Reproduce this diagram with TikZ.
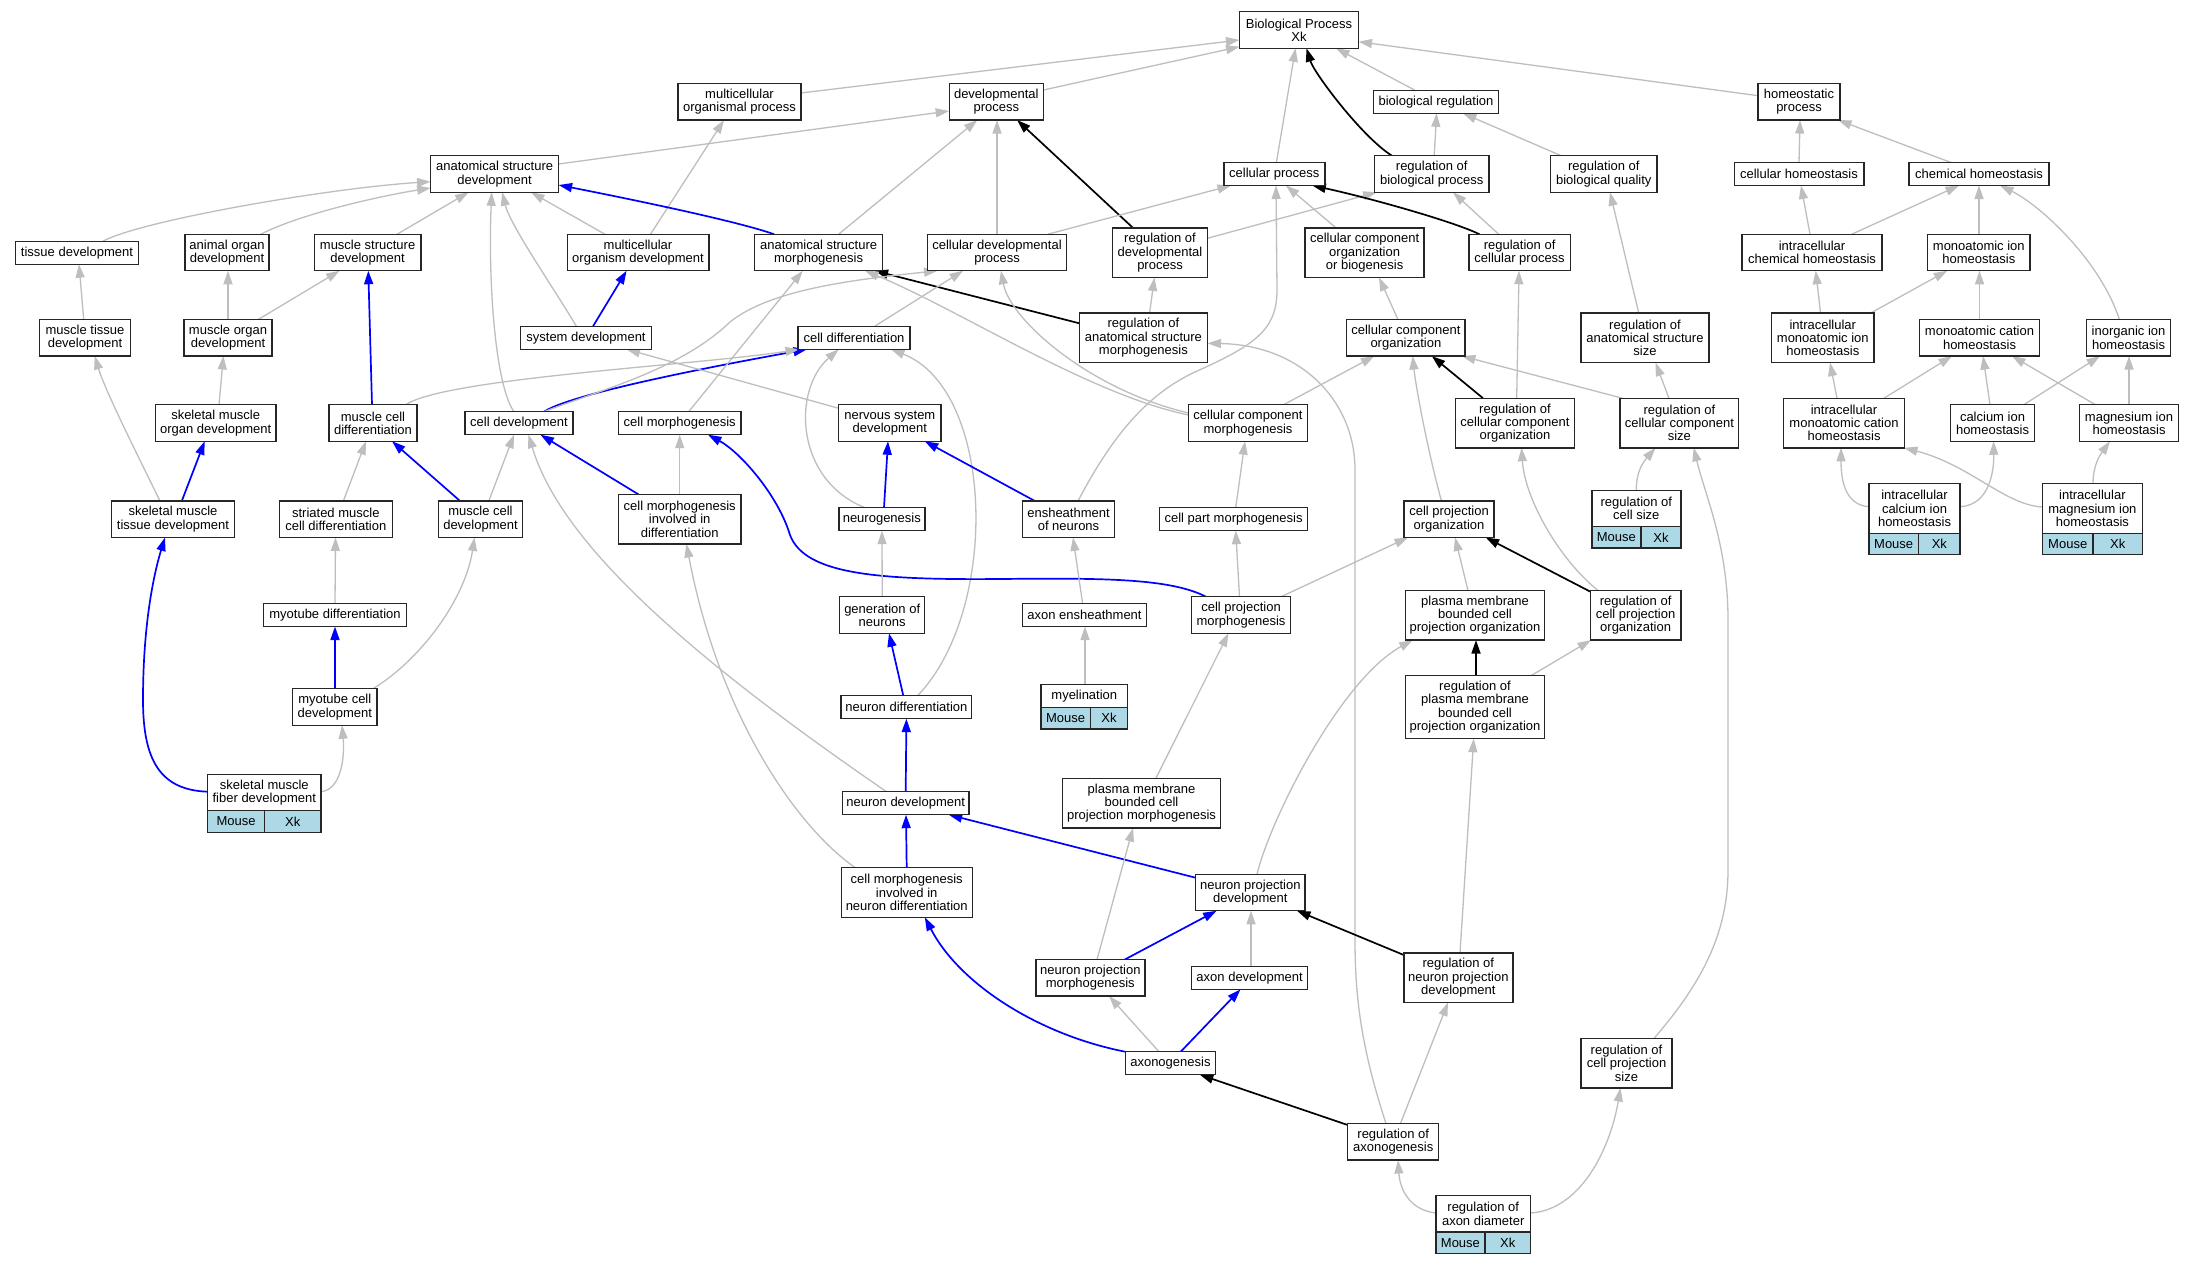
\documentclass[tikz,border=0pt]{standalone}
\usepackage{fontspec}
\setmainfont{Liberation Sans}
\usetikzlibrary{arrows.meta,calc}
\definecolor{eg}{RGB}{190,190,190}
\definecolor{lb}{RGB}{173,216,230}
\pgfdeclarelayer{bgl}
\pgfdeclarelayer{edges}
\pgfsetlayers{bgl,edges,main}
\tikzset{
  box/.style={draw=black!85, line width=1.4pt, fill=white, align=center, inner sep=0pt,
    font=\fontsize{13}{13.3}\selectfont},
  l1/.style={minimum height=23pt}, l2/.style={minimum height=36.5pt},
  l3/.style={minimum height=49.6pt}, l4/.style={minimum height=63pt},
  cellbox/.style={draw=black!85, line width=1.4pt, fill=lb, inner sep=0pt,
    font=\fontsize{13}{13.3}\selectfont},
  ga/.style={draw=eg, line width=1.3pt, -{Triangle[length=13.5pt,width=9pt]}},
  bl/.style={draw=blue, line width=1.7pt, -{Triangle[length=13.5pt,width=9pt]}},
  bk/.style={draw=black, line width=1.7pt, -{Triangle[length=13.5pt,width=9pt]}},
}
\newcommand\nd[6]{\node[box,l#5,minimum width=#4pt] (#1) at (#2,#3) {#6};}
\newcommand\rowcells[6]{%
  \node[cellbox, minimum width={#3pt-#2pt}, minimum height={#6pt-#5pt}] (#1M) at ({(#2+#3)/2},{(#5+#6)/2}) {Mouse};
  \node[cellbox, minimum width={#4pt-#3pt}, minimum height={#6pt-#5pt}] (#1X) at ({(#3+#4)/2},{(#5+#6)/2}) {Xk};}
\newcommand\es[5]{\draw[#1] ($(#2)+(#3)$) -- ($(#4)+(#5)$);}
\newcommand\ec[7]{\draw[#1] ($(#2)+(#3)$) .. controls (#4) and (#5) .. ($(#6)+(#7)$);}
\begin{document}
\begin{tikzpicture}[x=1pt,y=-1pt]
\begin{pgfonlayer}{bgl}
\fill[white] (0,0) rectangle (2195,1264);
\end{pgfonlayer}
\useasboundingbox (0,0) rectangle (2195,1264);
% ---------- nodes ----------
\nd{bp}{1299}{30}{119}{2}{Biological Process\\Xk}
\nd{mop}{739.5}{101.8}{122.7}{2}{multicellular\\organismal process}
\nd{dp}{996.3}{101.8}{94.2}{2}{developmental\\process}
\nd{br}{1436}{101.8}{124.7}{1}{biological regulation}
\nd{hp}{1799}{101.8}{81.8}{2}{homeostatic\\process}
\nd{asd}{494.6}{174}{128}{2}{anatomical structure\\development}
\nd{cp}{1274.3}{174}{101}{1}{cellular process}
\nd{rbp}{1431.7}{174}{114.6}{2}{regulation of\\biological process}
\nd{rbq}{1603.8}{174}{106.2}{2}{regulation of\\biological quality}
\nd{chom}{1799}{174}{129.6}{1}{cellular homeostasis}
\nd{chem}{1979}{174}{140}{1}{chemical homeostasis}
\nd{td}{77}{252.7}{123}{1}{tissue development}
\nd{aod}{227}{252.5}{84}{2}{animal organ\\development}
\nd{msd}{367.6}{252.5}{106.7}{2}{muscle structure\\development}
\nd{mod}{638}{252.5}{141.6}{2}{multicellular\\organism development}
\nd{asm}{818.6}{252.5}{128}{2}{anatomical structure\\morphogenesis}
\nd{cdp}{997}{252.5}{138.7}{2}{cellular developmental\\process}
\nd{rdp}{1160}{252.7}{94.7}{3}{regulation of\\developmental\\process}
\nd{ccob}{1364.6}{252.7}{119.1}{3}{cellular component\\organization\\or biogenesis}
\nd{rcp}{1519.6}{252.5}{101.4}{2}{regulation of\\cellular process}
\nd{ich}{1812}{252.5}{140.2}{2}{intracellular\\chemical homeostasis}
\nd{mih}{1978.8}{252.5}{102.4}{2}{monoatomic ion\\homeostasis}
\nd{mtd}{85}{337.7}{91}{2}{muscle tissue\\development}
\nd{morgd}{228}{337.7}{88}{2}{muscle organ\\development}
\nd{sd}{586}{337.8}{130.6}{1}{system development}
\nd{cdiff}{854}{337.8}{112}{1}{cell differentiation}
\nd{rasm}{1143.4}{337.8}{128.2}{3}{regulation of\\anatomical structure\\morphogenesis}
\nd{cco}{1405.9}{337.8}{118.4}{2}{cellular component\\organization}
\nd{rass}{1645}{337.8}{128.2}{3}{regulation of\\anatomical structure\\size}
\nd{imih}{1822.8}{337.8}{102.4}{3}{intracellular\\monoatomic ion\\homeostasis}
\nd{mch}{1979.5}{337.8}{120}{2}{monoatomic cation\\homeostasis}
\nd{iih}{2128.5}{337.8}{84.2}{2}{inorganic ion\\homeostasis}
\nd{smod}{215.7}{423}{120.5}{2}{skeletal muscle\\organ development}
\nd{mcd}{373}{423}{88}{2}{muscle cell\\differentiation}
\nd{cd}{519}{423.2}{108}{1}{cell development}
\nd{cm}{679.7}{423.2}{122.5}{1}{cell morphogenesis}
\nd{nsd}{889.8}{423}{102.3}{2}{nervous system\\development}
\nd{ccm}{1248}{423}{118.6}{2}{cellular component\\morphogenesis}
\nd{rcco}{1515}{423}{119}{3}{regulation of\\cellular component\\organization}
\nd{rccs}{1679.4}{423}{118.6}{3}{regulation of\\cellular component\\size}
\nd{imch}{1844}{423}{120.6}{3}{intracellular\\monoatomic cation\\homeostasis}
\nd{cih}{1992.5}{423}{83.7}{2}{calcium ion\\homeostasis}
\nd{mgih}{2129}{423}{98.5}{2}{magnesium ion\\homeostasis}
\nd{smtd}{173}{519.2}{123}{2}{skeletal muscle\\tissue development}
\nd{smcd}{335.8}{519.2}{113}{2}{striated muscle\\cell differentiation}
\nd{mcdev}{480.5}{519.2}{83.7}{2}{muscle cell\\development}
\nd{cmid}{679.7}{519.2}{122.5}{3}{cell morphogenesis\\involved in\\differentiation}
\nd{neur}{881.8}{519.2}{86}{1}{neurogenesis}
\nd{eon}{1068.5}{519.2}{92.3}{2}{ensheathment\\of neurons}
\nd{cpartm}{1233.6}{519.2}{147.8}{1}{cell part morphogenesis}
\nd{cpo}{1449}{519.2}{90.3}{2}{cell projection\\organization}
\nd{rcs}{1636.3}{508.5}{89}{2}{regulation of\\cell size}
\rowcells{rcs}{1591.8}{1641}{1680.8}{526.75}{548}
\nd{icih}{1914.5}{508.5}{91.3}{3}{intracellular\\calcium ion\\homeostasis}
\rowcells{icih}{1868.85}{1918.5}{1960.15}{533.3}{554.7}
\nd{imgih}{2092.4}{508.5}{100}{3}{intracellular\\magnesium ion\\homeostasis}
\rowcells{imgih}{2042.4}{2093}{2142.4}{533.3}{554.7}
\nd{mtdiff}{335}{615}{143}{1}{myotube differentiation}
\nd{gon}{882.2}{615}{85}{2}{generation of\\neurons}
\nd{ae}{1084.5}{615}{124.4}{1}{axon ensheathment}
\nd{cpm}{1241}{615}{98.5}{2}{cell projection\\morphogenesis}
\nd{pmbcpo}{1475}{615.3}{139.5}{3}{plasma membrane\\bounded cell\\projection organization}
\nd{rcpo}{1635.6}{615.3}{90.4}{3}{regulation of\\cell projection\\organization}
\nd{mtcd}{334.8}{707}{84.2}{2}{myotube cell\\development}
\nd{ndiff}{906.4}{707.2}{130.6}{1}{neuron differentiation}
\nd{myel}{1084.3}{696}{86.6}{1}{myelination}
\rowcells{myel}{1041}{1090.3}{1127.6}{707.5}{729}
\nd{rpmbcpo}{1475}{707.2}{139.5}{4}{regulation of\\plasma membrane\\bounded cell\\projection organization}
\nd{smfd}{264.3}{792.5}{113.4}{2}{skeletal muscle\\fiber development}
\rowcells{smfd}{207.6}{264.5}{321}{810.75}{832.3}
\nd{ndev}{905.7}{803.2}{126.3}{1}{neuron development}
\nd{pmbcpm}{1141.5}{803.3}{157.8}{3}{plasma membrane\\bounded cell\\projection morphogenesis}
\nd{cmind}{906.7}{892.5}{131}{3}{cell morphogenesis\\involved in\\neuron differentiation}
\nd{npd}{1250.3}{892.5}{109.5}{2}{neuron projection\\development}
\nd{npm}{1090.3}{977.8}{109}{2}{neuron projection\\morphogenesis}
\nd{ad}{1249.6}{977.8}{115.8}{1}{axon development}
\nd{rnpd}{1458.3}{977.7}{109}{3}{regulation of\\neuron projection\\development}
\nd{axg}{1170.4}{1063.2}{90.4}{1}{axonogenesis}
\nd{rcps}{1626.5}{1063.2}{91.3}{3}{regulation of\\cell projection\\size}
\nd{rax}{1393.2}{1141.8}{91}{2}{regulation of\\axonogenesis}
\nd{rad}{1483.2}{1213.7}{94.7}{2}{regulation of\\axon diameter}
\rowcells{rad}{1435.85}{1485}{1530.55}{1231.95}{1253.3}
% ---------- edges ----------
\begin{pgfonlayer}{edges}
\es{ga}{mop}{61.4,-8.8}{bp}{-59.5,10}
\es{ga}{dp}{47.1,-11.8}{bp}{-59.5,16.7}
\es{ga}{cp}{2.1,-11.5}{bp}{-3.5,18.25}
\ec{bk}{rbp}{-39.7,-18.25}{1362,137}{1314,73}{bp}{7.5,18.25}
\es{ga}{br}{-21,-11.5}{bp}{37,18.25}
\es{ga}{hp}{-40.9,-6.1}{bp}{59.5,11.7}
\es{ga}{asd}{64,-10}{dp}{-47.1,9.2}
\es{ga}{mod}{12.5,-18.25}{mop}{-15.5,18.25}
\es{ga}{asm}{20,-18.25}{dp}{-19,18.25}
\es{ga}{cdp}{0,-18.25}{dp}{0.7,18.25}
\es{bk}{rdp}{-27,-24.8}{dp}{20.8,18.25}
\es{ga}{cdp}{50.7,-18.25}{cp}{-43.3,11.5}
\es{ga}{rdp}{47.35,-14.4}{rbp}{-55,18.25}
\es{ga}{ccob}{-28.6,-24.8}{cp}{11.7,11.5}
\ec{bk}{rcp}{-40.2,-18.25}{1455,222}{1370,198}{cp}{38,11.5}
\es{ga}{rcp}{-21,-18.25}{rbp}{21.3,18.25}
\es{ga}{rbq}{-42.6,-18.25}{br}{27,11.5}
\es{ga}{rbp}{2.5,-18.25}{br}{0.6,11.5}
\es{ga}{chom}{0,-11.5}{hp}{1,18.25}
\es{ga}{chem}{-28,-11.5}{hp}{39,18.25}
\ec{bl}{asm}{-44.5,-18.25}{740,222}{640,201}{asd}{64,11}
\ec{ga}{td}{25.8,-11.5}{143,220}{330,188}{asd}{-64,7.7}
\ec{ga}{aod}{33.7,-18.25}{300,214}{380,196}{asd}{-64,14}
\es{ga}{msd}{29.4,-18.25}{asd}{-26,18.25}
\ec{ga}{cd}{-5,-11.5}{495,385}{488,280}{asd}{-2.9,18.25}
\ec{ga}{sd}{-9.6,-11.5}{555,290}{510,225}{asd}{7.6,18.25}
\es{ga}{mod}{-33,-18.25}{asd}{36.4,18.25}
\es{bk}{rasm}{-64.1,-14.5}{asm}{56,18.25}
\es{ga}{cdiff}{20.6,-11.5}{cdp}{-34,18.25}
\ec{ga}{ccm}{-59.3,-8}{1090,395}{960,310}{asm}{46.4,18.25}
\ec{ga}{ccm}{-59.3,-10}{1090,390}{1010,320}{cdp}{4,18.25}
\es{ga}{rasm}{6.2,-24.8}{rdp}{-5.6,24.8}
\es{ga}{cco}{-7.9,-18.25}{ccob}{14.4,24.8}
\es{ga}{rcco}{1.7,-24.8}{rcp}{-0.6,18.25}
\es{ga}{rass}{-6.3,-24.8}{rbq}{6.2,18.25}
\es{ga}{ich}{-2,-18.25}{chom}{2,11.5}
\es{ga}{ich}{39.6,-18.25}{chem}{-20,11.5}
\es{ga}{mih}{0.2,-18.25}{chem}{0,11.5}
\ec{ga}{iih}{-9.1,-18.25}{2100,260}{2040,205}{chem}{21,11.5}
\es{ga}{mtd}{-1.3,-18.25}{td}{2,11.5}
\es{ga}{morgd}{0,-18.25}{aod}{1,18.25}
\es{ga}{morgd}{30.3,-18.25}{msd}{-28,18.25}
\es{bl}{mcd}{-1,-18.25}{msd}{0.7,18.25}
\es{bl}{sd}{7,-11.5}{mod}{-11.4,18.25}
\ec{bl}{cd}{25,-11.5}{574,392}{737,362}{cdiff}{-47,11.5}
\ec{ga}{mcd}{32.7,-18.25}{445,378}{700,365}{cdiff}{-55,11.5}
\draw[ga] ($(cd)+(25,-11.5)$) .. controls (600,390) and (680,370) .. (730,322) .. controls (770,290) and (850,280) .. ($(cdp)+(-59.5,18.25)$);
\es{ga}{cm}{9,-11.5}{asm}{-15.8,18.25}
\es{ga}{nsd}{-51.1,-14.7}{sd}{40.6,11.5}
\ec{ga}{neur}{-16.8,-11.5}{795,480}{792,390}{cdiff}{-15.3,11.5}
\ec{ga}{ndiff}{11.2,-11.5}{1000,610}{995,390}{cdiff}{37,11.5}
\es{ga}{ccm}{35.5,-18.25}{cco}{-31.5,18.25}
\es{bk}{rcco}{-32,-24.8}{cco}{25.9,18.25}
\ec{ga}{cpo}{-7.6,-18.25}{1425,440}{1415,380}{cco}{6.8,18.25}
\es{ga}{rccs}{-57,-24.8}{cco}{56,18.25}
\es{ga}{rccs}{-10.5,-24.8}{rass}{10.5,24.8}
\es{ga}{imih}{-2.3,-24.8}{ich}{3.7,18.25}
\es{ga}{imih}{47.9,-24.8}{mih}{-31.6,18.25}
\es{ga}{mch}{0,-18.25}{mih}{0.7,18.25}
\draw[ga] ($(rax)+(-7.2,-18.25)$) .. controls (1362,1050) and (1355,1000) .. (1355,940) -- (1355,470) .. controls (1355,400) and (1300,345) .. ($(rasm)+(64.1,5.5)$);
\ec{ga}{rcs}{0,-18.25}{1636,470}{1645,460}{rccs}{-24,24.8}
\draw[ga] ($(rcps)+(27.5,-24.8)$) .. controls (1700,985) and (1728,935) .. (1728,870) -- (1728,620) .. controls (1728,545) and (1705,495) .. ($(rccs)+(14.3,24.8)$);
\es{ga}{imch}{-7,-24.8}{imih}{7.2,24.8}
\es{ga}{imch}{40,-24.8}{mch}{-27.5,18.25}
\es{ga}{cih}{-2.5,-18.25}{mch}{3.5,18.25}
\es{ga}{cih}{31.3,-18.25}{iih}{-28.5,18.25}
\es{ga}{mgih}{-33.5,-18.25}{mch}{32.5,18.25}
\es{ga}{mgih}{0,-18.25}{iih}{0.5,18.25}
\ec{ga}{icih}{-45.65,-1.8}{1845,505}{1841,480}{imch}{-3,24.8}
\ec{ga}{icih}{45.65,-1.8}{1990,505}{1994,470}{cih}{1.1,18.25}
\ec{ga}{imgih}{-50,-1.5}{2005,505}{1970,465}{imch}{60,24.8}
\ec{ga}{imgih}{0.6,-24.8}{2093,465}{2100,455}{mgih}{-19,18.25}
\es{ga}{smod}{3.3,-18.25}{morgd}{-4.6,18.25}
\es{bl}{smtd}{8.8,-18.25}{smod}{-11,18.25}
\ec{ga}{smtd}{-13,-18.25}{135,450}{105,390}{mtd}{9.7,18.25}
\es{ga}{smcd}{7.6,-18.25}{mcd}{-7,18.25}
\es{bl}{mcdev}{-20.5,-18.25}{mcd}{19,18.25}
\es{ga}{mcdev}{8.3,-18.25}{cd}{-5,11.5}
\es{bl}{cmid}{-41.2,-24.8}{cd}{21.5,11.5}
\es{ga}{cmid}{0,-24.8}{cm}{0,11.5}
\ec{ga}{ndev}{-19.2,-11.5}{680,650}{560,540}{cd}{9.5,11.5}
\draw[bl] ($(cpm)+(-35,-18.25)$) .. controls (1170,578) and (1100,578) .. (1000,579) .. controls (880,580) and (805,575) .. (790,535) .. controls (778,495) and (740,452) .. ($(cm)+(28.3,11.5)$);
\es{bl}{neur}{2.2,-11.5}{nsd}{-1.8,18.25}
\es{bl}{eon}{-33.7,-18.25}{nsd}{35,18.25}
\draw[ga] ($(eon)+(9.5,-18.25)$) .. controls (1110,440) and (1145,395) .. (1195,372) .. controls (1255,345) and (1277,330) .. (1277,290) -- ($(cp)+(1.7,11.5)$);
\es{ga}{cpartm}{2.1,-11.5}{ccm}{-3,18.25}
\es{ga}{cpm}{-1.5,-18.25}{cpartm}{2.1,11.5}
\es{ga}{cpm}{40,-18.25}{cpo}{-41,18.25}
\es{ga}{pmbcpo}{-7,-24.8}{cpo}{6,18.25}
\es{bk}{rcpo}{-45.2,-23.6}{cpo}{36.7,18.25}
\ec{ga}{rcpo}{-37.6,-24.8}{1560,560}{1525,500}{rcco}{6.5,24.8}
\es{ga}{gon}{0,-18.25}{neur}{0.2,11.5}
\es{ga}{mtdiff}{0,-11.5}{smcd}{-0.3,18.25}
\es{ga}{ae}{-1.9,-11.5}{eon}{4.5,18.25}
\es{ga}{myel}{0.7,-11.5}{ae}{0.5,11.5}
\es{bk}{rpmbcpo}{1,-31.5}{pmbcpo}{1,24.8}
\es{ga}{rpmbcpo}{56,-31.5}{rcpo}{-44.6,24.8}
\es{bl}{ndiff}{-3.1,-11.5}{gon}{6.8,18.25}
\es{bl}{mtcd}{0.2,-18.25}{mtdiff}{0,11.5}
\ec{ga}{mtcd}{38.2,-18.25}{420,660}{465,600}{mcdev}{-6,18.25}
\draw[bl] ($(smfd)+(-56.7,-0.8)$) .. controls (160,790) and (143,760) .. (143,700) .. controls (143,620) and (155,570) .. ($(smtd)+(-8,18.25)$);
\ec{ga}{smfd}{56.7,-0.8}{340,790}{345,760}{mtcd}{7.2,18.25}
\es{bl}{ndev}{0,-11.5}{ndiff}{0,11.5}
\ec{ga}{cmind}{-51.3,-24.8}{800,830}{720,720}{cmid}{6.7,24.8}
\es{bl}{cmind}{0,-24.8}{ndev}{0.3,11.5}
\es{bl}{npd}{-54.75,-14.8}{ndev}{43,11.5}
\ec{ga}{npd}{6.7,-18.25}{1270,820}{1340,680}{pmbcpo}{-62.3,24.8}
\es{ga}{pmbcpm}{14.3,-24.8}{cpm}{-12.5,18.25}
\es{ga}{rnpd}{1.7,-24.8}{rpmbcpo}{-1.3,31.5}
\es{ga}{npm}{6.7,-18.25}{pmbcpm}{-8.5,24.8}
\es{bl}{npm}{34.4,-18.25}{npd}{-33.7,18.25}
\es{ga}{ad}{1.4,-11.5}{npd}{0.7,18.25}
\es{bk}{rnpd}{-54.5,-22.7}{npd}{46.7,18.25}
\ec{bl}{axg}{-45.2,-11.5}{1040,1035}{960,985}{cmind}{18.1,24.8}
\es{ga}{axg}{-11.4,-11.5}{npm}{18.7,18.25}
\es{bl}{axg}{10.3,-11.5}{ad}{-9.1,11.5}
\es{bk}{rax}{-45.5,-16.8}{axg}{29.4,11.5}
\es{ga}{rax}{7.2,-18.25}{rnpd}{-10.3,24.8}
\ec{ga}{rad}{-47.35,-0.7}{1410,1210}{1400,1190}{rax}{4.8,18.25}
\ec{ga}{rad}{47.35,-0.7}{1580,1210}{1610,1150}{rcps}{-6,24.8}
\end{pgfonlayer}
\end{tikzpicture}
\end{document}
